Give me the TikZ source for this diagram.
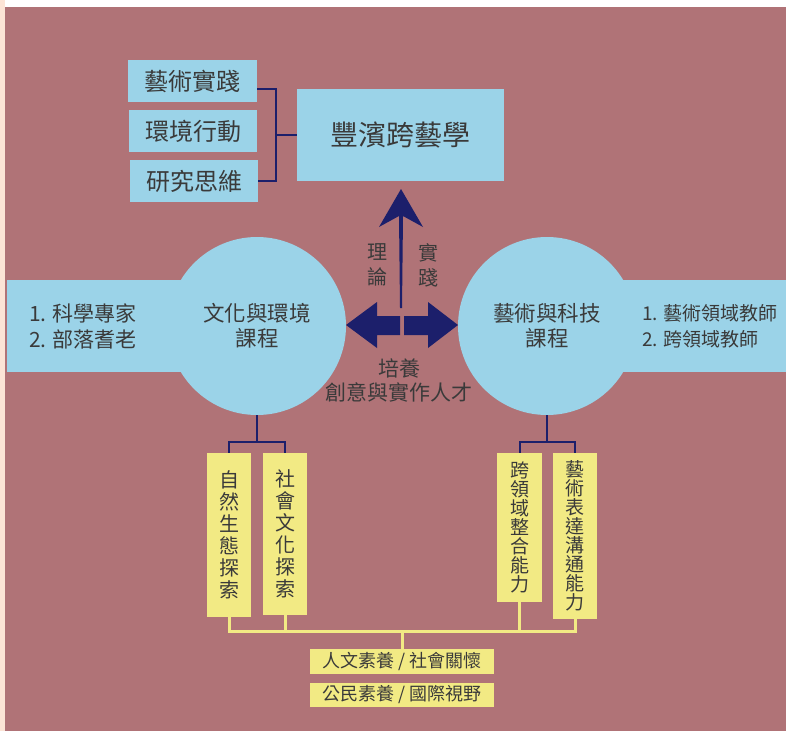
\documentclass[tikz,border=0pt]{standalone}
\usepackage{fontspec}
\newfontfamily\cjk{Noto Sans CJK TC}
\definecolor{bgc}{HTML}{B07377}
\definecolor{peach}{HTML}{FCE4D6}
\definecolor{lblue}{HTML}{9BD3E8}
\definecolor{yel}{HTML}{F2EA84}
\definecolor{navy}{HTML}{1C1F6B}
\definecolor{txt}{HTML}{3A3A3A}
\tikzset{
  bluebox/.style={fill=lblue, inner sep=0pt, text=txt},
  yelbox/.style={fill=yel, inner sep=0pt, text=txt, align=center},
  navyline/.style={draw=navy, line width=2pt},
  yelline/.style={draw=yel, line width=3pt},
  lbl/.style={text=txt, inner sep=0pt, align=center},
}
\newcommand{\fs}[2]{\fontsize{#1pt}{#2pt}\selectfont\cjk}
\begin{document}
\begin{tikzpicture}[x=1pt,y=-1pt]
\useasboundingbox (0,0) rectangle (786,731);
\fill[white] (0,0) rectangle (786,731);
\fill[peach] (0,0) rectangle (5,731);
\fill[bgc] (5,7) rectangle (786,731);

% top boxes
\node[bluebox, minimum width=129pt, minimum height=42pt, font=\fs{24}{28}] (tA) at (192.5,81) {藝術實踐};
\node[bluebox, minimum width=128pt, minimum height=42pt, font=\fs{24}{28}] (tB) at (193,131) {環境行動};
\node[bluebox, minimum width=128pt, minimum height=42pt, font=\fs{24}{28}] (tC) at (194,181) {研究思維};
\node[bluebox, minimum width=207pt, minimum height=92pt, font=\fs{28}{32}] (main) at (400.5,135) {豐濱跨藝學};
\coordinate (b1) at (276,89);
\coordinate (bm) at (276,135);
\draw[navyline] (tA.east |- b1) -- (b1) |- (tC.east);
\draw[navyline] (bm) -- (main.west);

% bands and circles
\fill[lblue] (7,280) rectangle (257,372);
\fill[lblue] (547,280) rectangle (786,372);
\node[circle, fill=lblue, minimum size=178pt, inner sep=0pt, text=txt, align=center, font=\fs{21.5}{25}] (cl) at (257,326) {文化與環境\\課程};
\node[circle, fill=lblue, minimum size=178pt, inner sep=0pt, text=txt, align=center, font=\fs{21.5}{25}] (cr) at (547,326) {藝術與科技\\課程};
\node[lbl, anchor=west, align=left, font=\fs{21}{26}] (bl) at (29,326) {1. 科學專家\\2. 部落耆老};
\node[lbl, anchor=west, align=left, font=\fs{19}{26}] (br) at (642,326) {1. 藝術領域教師\\2. 跨領域教師};

% arrows
\fill[navy] (401,189) -- (423,227) -- (403,216) -- (402,308) -- (400,308) -- (399,216) -- (379,227) -- cycle;
\fill[navy] (346,325) -- (377,302) -- (377,316) -- (400,316) -- (400,335) -- (377,335) -- (377,348) -- cycle;
\fill[navy] (458,325) -- (428,302) -- (428,316) -- (404,316) -- (404,335) -- (428,335) -- (428,348) -- cycle;
\node[lbl, font=\fs{20}{25}] (tl) at (377,265) {理\\論};
\node[lbl, font=\fs{20}{25}] (tr) at (428,265) {實\\踐};
\node[lbl, font=\fs{21}{24}] (cap) at (399,380) {培養\\創意與實作人才};

% bottom yellow boxes
\node[yelbox, minimum width=44pt, minimum height=164pt, font=\fs{20}{22}] (y1) at (229,535) {自\\然\\生\\態\\探\\索};
\node[yelbox, minimum width=44pt, minimum height=162pt, font=\fs{20}{22}] (y2) at (285,534) {社\\會\\文\\化\\探\\索};
\node[yelbox, minimum width=45pt, minimum height=149pt, font=\fs{19}{19}] (y3) at (519.5,527.5) {跨\\領\\域\\整\\合\\能\\力};
\node[yelbox, minimum width=44pt, minimum height=166pt, font=\fs{19}{19}] (y4) at (575,536) {藝\\術\\表\\達\\溝\\通\\能\\力};

\coordinate (jl) at (257,442);
\coordinate (jr) at (547,442);
\draw[navyline] (cl.south) -- (jl);
\draw[navyline] (y1.north) |- (jl) -| (y2.north);
\draw[navyline] (cr.south) -- (jr);
\draw[navyline] (y3.north) |- (jr) -| (y4.north);

% bottom labels
\node[yelbox, minimum width=184pt, minimum height=25pt, font=\fs{18}{20}] (l1) at (402,661.5) {人文素養 / 社會關懷};
\node[yelbox, minimum width=184pt, minimum height=24pt, font=\fs{18}{20}] (l2) at (402,695) {公民素養 / 國際視野};
\coordinate (yb) at (402,631);
\draw[yelline] (y1.south) -- (y1.south |- yb) -- (y4.south |- yb) -- (y4.south);
\draw[yelline] (y2.south) -- (y2.south |- yb);
\draw[yelline] (y3.south) -- (y3.south |- yb);
\draw[yelline] (yb) -- (l1.north);
\end{tikzpicture}
\end{document}
